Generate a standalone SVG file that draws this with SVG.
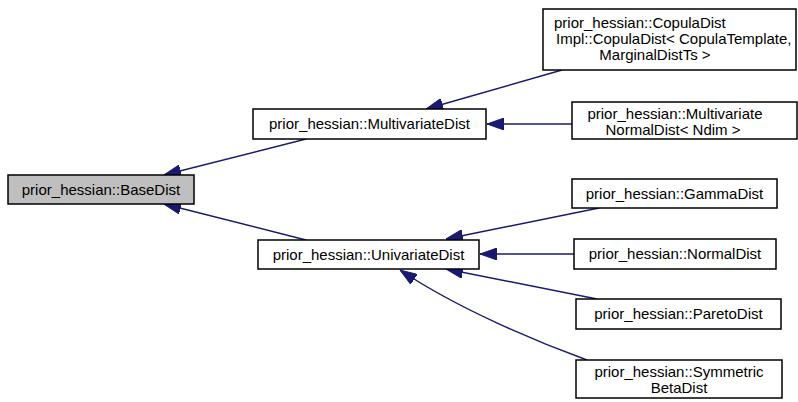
<svg xmlns="http://www.w3.org/2000/svg" width="798" height="402" viewBox="0 0 798 402">
<style>
.box{fill:#ffffff;stroke:#000000;stroke-width:1.5}
.base{fill:#bfbfbf;stroke:#000000;stroke-width:1.5}
text{font-family:"Liberation Sans",Arial,Helvetica,sans-serif;font-size:15px;fill:#000000}
.c{text-anchor:middle}
.e{fill:none;stroke:#191970;stroke-width:1.5;marker-end:url(#ah)}
</style>
<defs>
<marker id="ah" markerUnits="userSpaceOnUse" viewBox="0 0 17 12" refX="17" refY="6" markerWidth="17" markerHeight="12" orient="auto">
<path d="M0,0 L17,6 L0,12 z" fill="#191970" stroke="#191970"/>
</marker>
</defs>
<rect width="798" height="402" fill="#ffffff"/>
<g id="edges">
<path class="e" d="M306,139 L164,175"/>
<path class="e" d="M306,240 L164,204"/>
<path class="e" d="M562,70 L426,109"/>
<path class="e" d="M572,124 L487,124"/>
<path class="e" d="M599,208 L446,239"/>
<path class="e" d="M574,254 L480,254"/>
<path class="e" d="M597,299 L446,269"/>
<path class="e" d="M587,360 C540,343 460,310 400,270"/>
</g>
<g id="BaseDist">
<rect class="base" x="8" y="175" width="186" height="29"/>
<text class="c" x="101" y="195">prior_hessian::BaseDist</text>
</g>
<g id="MultivariateDist">
<rect class="box" x="253" y="109" width="233" height="30"/>
<text class="c" x="369.5" y="129">prior_hessian::MultivariateDist</text>
</g>
<g id="UnivariateDist">
<rect class="box" x="258" y="240" width="221" height="29"/>
<text class="c" x="368.5" y="260">prior_hessian::UnivariateDist</text>
</g>
<g id="CopulaDist">
<rect class="box" x="543" y="9" width="253" height="61"/>
<text x="554" y="28">prior_hessian::CopulaDist</text>
<text x="556" y="44">Impl::CopulaDist&lt; CopulaTemplate,</text>
<text class="c" x="655" y="60">MarginalDistTs &gt;</text>
</g>
<g id="MultivariateNormalDist">
<rect class="box" x="572" y="102" width="225" height="37"/>
<text class="c" x="675" y="119">prior_hessian::Multivariate</text>
<text class="c" x="673" y="135">NormalDist&lt; Ndim &gt;</text>
</g>
<g id="GammaDist">
<rect class="box" x="572" y="179" width="205" height="29"/>
<text class="c" x="674.5" y="199">prior_hessian::GammaDist</text>
</g>
<g id="NormalDist">
<rect class="box" x="574" y="239" width="202" height="30"/>
<text class="c" x="675" y="259">prior_hessian::NormalDist</text>
</g>
<g id="ParetoDist">
<rect class="box" x="576" y="299" width="205" height="30"/>
<text class="c" x="678.5" y="319">prior_hessian::ParetoDist</text>
</g>
<g id="SymmetricBetaDist">
<rect class="box" x="576" y="360" width="206" height="38"/>
<text class="c" x="679" y="377">prior_hessian::Symmetric</text>
<text class="c" x="679" y="393">BetaDist</text>
</g>
</svg>
